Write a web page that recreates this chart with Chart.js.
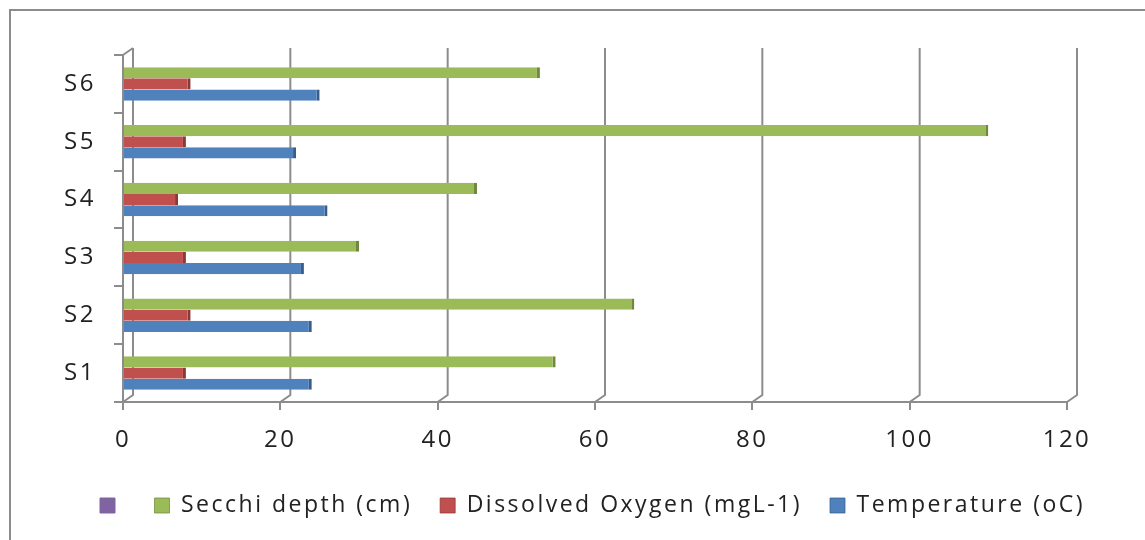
<!DOCTYPE html>
<html>
<head>
<meta charset="utf-8">
<script src="https://cdn.jsdelivr.net/npm/chart.js@4.4.0/dist/chart.umd.min.js"></script>
<style>
  html, body { margin: 0; padding: 0; background: #fff; }
  #wrap { position: relative; width: 1145px; height: 540px; overflow: hidden; }
  #frame { position: absolute; left: 9px; top: 9px; width: 1200px; height: 600px; border: 2px solid #8c8c8c; box-sizing: border-box; }
  canvas { position: absolute; left: 0; top: 0; }
</style>
</head>
<body>
<div id="wrap">
  <div id="frame"></div>
  <canvas id="barChart" width="1145" height="540"></canvas>
</div>
<script>
// stations, bottom to top
const stations = ['S1', 'S2', 'S3', 'S4', 'S5', 'S6'];
const secchi = [55, 65, 30, 45, 110, 53];
const oxygen = [8, 8.6, 8, 7, 8, 8.6];
const temperature = [24, 24, 23, 26, 22, 25];
const xTicks = [0, 20, 40, 60, 80, 100, 120];

const gridGrey = '#8c8c8c';
const labelFont = 'Open Sans';

// slightly spaced text, like the stretched Excel export
function setSpacing(chart) { chart.ctx.letterSpacing = '2.5px'; }
const spacing = {
  id: 'spacing',
  beforeUpdate: setSpacing,
  beforeLayout: setSpacing,
  beforeDraw: setSpacing
};

// legend row starts a bit further right than chart.js would centre it
const legendShift = {
  id: 'legendShift',
  afterLayout: function (chart) {
    const lg = chart.legend;
    if (!lg || !lg.lineWidths) return;
    const pad = lg.options.labels.padding;
    const start = (lg.left + pad + lg.right - lg.lineWidths[0]) / 2;
    const shift = 100 - start;
    lg.left += shift;
    lg.right += shift;
  }
};

// gridlines on the back wall, with the little 3D step at the floor
const backWall = {
  id: 'backWall',
  beforeDatasetsDraw: function (chart) {
    const c = chart.ctx, x = chart.scales.x, a = chart.chartArea;
    const dx = 10, dy = 7;
    c.save();
    c.strokeStyle = gridGrey;
    c.lineWidth = 2;
    x.ticks.forEach(function (t) {
      const px = x.getPixelForValue(t.value);
      c.beginPath();
      c.moveTo(px, a.bottom);
      c.lineTo(px + dx, a.bottom - dy);
      c.lineTo(px + dx, a.top - dy);
      c.stroke();
    });
    // hook at the top of the value wall
    c.beginPath();
    c.moveTo(a.left, a.top);
    c.lineTo(a.left + dx, a.top - dy);
    c.stroke();
    c.restore();
  }
};

var ctx = document.getElementById('barChart').getContext('2d');

var barChart = new Chart(ctx, {
  type: 'bar',
  data: {
    labels: stations,
    datasets: [{
      label: 'Secchi depth (cm)',
      data: secchi,
      backgroundColor: '#9BBB59',
      borderColor: '#71893f',
      borderWidth: { right: 3, top: 0, bottom: 0, left: 0 }
    }, {
      label: 'Dissolved Oxygen (mgL-1)',
      data: oxygen,
      backgroundColor: '#C0504D',
      borderColor: '#8c3836',
      borderWidth: { right: 3, top: 0, bottom: 0, left: 0 }
    }, {
      label: 'Temperature (oC)',
      data: temperature,
      backgroundColor: '#4F81BD',
      borderColor: '#385d89',
      borderWidth: { right: 3, top: 0, bottom: 0, left: 0 }
    }, {
      // unnamed series that only shows up in the legend
      type: 'line',
      label: '',
      data: [],
      backgroundColor: '#8064A2',
      borderColor: '#8064A2',
      borderWidth: 1
    }]
  },
  options: {
    indexAxis: 'y',
    responsive: false,
    animation: false,
    layout: { padding: { top: 55, right: 78, bottom: 13, left: 0 } },
    datasets: { bar: { categoryPercentage: 0.58, barPercentage: 1 } },
    scales: {
      y: {
        reverse: true,
        afterFit: function (scale) { scale.width = 123; },
        border: { color: gridGrey, width: 2 },
        grid: { drawOnChartArea: false, drawTicks: true, tickLength: 9, color: gridGrey, lineWidth: 2 },
        ticks: { padding: 18, color: '#222', font: { family: labelFont, size: 24 } }
      },
      x: {
        min: 0,
        max: 120,
        afterBuildTicks: function (scale) { scale.ticks = xTicks.map(v => ({ value: v })); },
        afterFit: function (scale) { scale.height = 64; },
        border: { color: gridGrey, width: 2 },
        grid: { drawOnChartArea: false, color: gridGrey, lineWidth: 2, tickLength: 8 },
        ticks: { padding: 16, color: '#222', font: { family: labelFont, size: 24 } }
      }
    },
    plugins: {
      tooltip: { enabled: false },
      legend: {
        position: 'bottom',
        labels: {
          boxWidth: 15,
          boxHeight: 15,
          padding: 28,
          color: '#222',
          font: { family: labelFont, size: 23 },
          sort: function (a, b) { return (a.text === '' ? -1 : a.datasetIndex) - (b.text === '' ? -1 : b.datasetIndex); }
        }
      }
    }
  },
  plugins: [spacing, legendShift, backWall]
});
</script>
</body>
</html>
